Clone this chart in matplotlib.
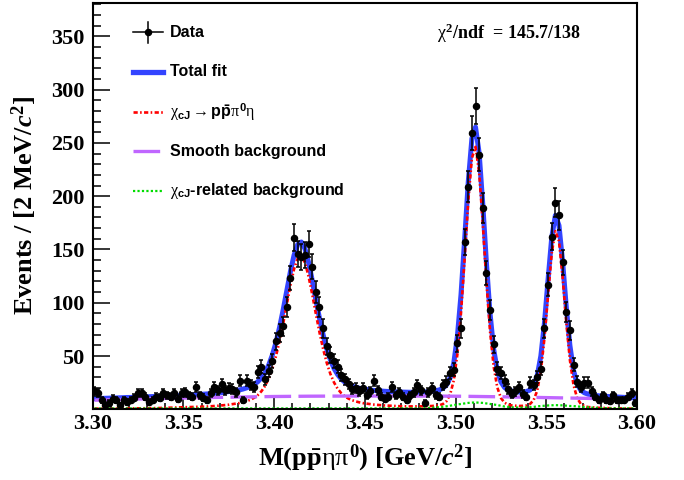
import numpy as np
import matplotlib
matplotlib.use("Agg")
import matplotlib.pyplot as plt
from matplotlib.ticker import MultipleLocator, FormatStrFormatter

# bin centres of the 2 MeV histogram, 3.30 - 3.60 GeV
mass = np.arange(150) * 0.002 + 3.301

counts = [17, 15, 9, 4, 6, 10, 9, 4, 9, 7,
          9, 11, 15, 15, 12, 7, 9, 12, 11, 15,
          13, 12, 15, 10, 15, 16, 13, 12, 21, 13,
          11, 9, 15, 21, 18, 24, 18, 20, 19, 16,
          27, 9, 27, 23, 21, 35, 40, 28, 36, 45,
          64, 72, 78, 96, 123, 161, 146, 143, 145, 155,
          134, 110, 96, 76, 59, 51, 45, 40, 32, 28,
          24, 19, 20, 17, 20, 13, 17, 27, 18, 12,
          10, 12, 21, 13, 16, 12, 9, 13, 16, 23,
          18, 6, 16, 20, 13, 12, 23, 26, 34, 37,
          62, 76, 157, 209, 259, 285, 239, 189, 128, 93,
          61, 38, 34, 27, 19, 14, 17, 21, 14, 12,
          25, 23, 30, 38, 76, 117, 162, 194, 182, 138,
          91, 74, 42, 26, 21, 25, 25, 17, 12, 9,
          13, 9, 8, 13, 9, 9, 9, 12, 15, 6]

fit_total = [10.0, 10.1, 10.2, 10.3, 10.5, 10.6, 10.7, 10.8, 11.0, 11.1,
             11.1, 11.3, 11.4, 11.6, 11.7, 11.7, 11.9, 12.0, 12.1, 12.3,
             12.3, 12.5, 12.7, 12.8, 13.0, 13.1, 13.3, 13.5, 13.7, 14.0,
             14.2, 14.4, 14.7, 15.0, 15.3, 15.6, 16.1, 16.5, 17.0, 17.6,
             18.2, 19.1, 20.2, 21.5, 23.4, 25.9, 29.6, 34.6, 41.5, 50.8,
             62.6, 76.9, 93.5, 111.5, 129.4, 144.7, 154.7, 157.0, 150.7, 137.7,
             120.9, 102.7, 85.4, 69.9, 56.8, 46.4, 38.4, 32.6, 28.4, 25.4,
             23.3, 21.8, 20.7, 19.8, 19.1, 18.6, 18.1, 17.7, 17.4, 17.1,
             16.9, 16.7, 16.5, 16.4, 16.2, 16.1, 16.1, 16.0, 15.9, 15.9,
             16.0, 16.2, 16.5, 17.0, 17.4, 18.2, 19.7, 22.8, 29.5, 43.3,
             68.4, 107.7, 159.5, 213.6, 254.1, 264.8, 240.5, 192.5, 137.5, 90.0,
             56.4, 36.3, 25.7, 20.5, 18.1, 17.1, 16.5, 16.2, 16.2, 16.6,
             18.1, 21.9, 31.5, 50.1, 81.3, 122.2, 161.3, 182.0, 172.5, 138.5,
             96.3, 60.1, 36.5, 23.8, 17.9, 15.5, 14.2, 13.6, 13.0, 12.6,
             12.3, 12.1, 11.9, 11.6, 11.4, 11.4, 11.1, 11.0, 10.8, 10.7]

fit_signal = [0.6, 0.6, 0.6, 0.6, 0.7, 0.7, 0.7, 0.7, 0.8, 0.8,
              0.8, 0.9, 0.9, 1.0, 1.0, 1.0, 1.1, 1.1, 1.2, 1.3,
              1.3, 1.4, 1.5, 1.6, 1.7, 1.8, 1.9, 2.0, 2.1, 2.3,
              2.5, 2.6, 2.8, 3.1, 3.3, 3.6, 4.0, 4.3, 4.8, 5.3,
              5.9, 6.7, 7.7, 9.0, 10.8, 13.3, 16.9, 21.9, 28.8, 38.0,
              49.8, 64.0, 80.6, 98.6, 116.4, 131.7, 141.7, 143.9, 137.6, 124.6,
              107.8, 89.6, 72.2, 56.7, 43.6, 33.2, 25.2, 19.3, 15.1, 12.1,
              10.0, 8.5, 7.4, 6.5, 5.8, 5.3, 4.8, 4.4, 4.1, 3.8,
              3.6, 3.4, 3.2, 3.1, 2.9, 2.8, 2.8, 2.7, 2.7, 2.7,
              2.7, 2.8, 2.9, 3.1, 3.3, 3.8, 4.9, 7.6, 13.8, 27.1,
              51.6, 90.5, 141.7, 195.4, 235.7, 246.3, 222.3, 174.5, 120.0, 73.1,
              40.0, 20.5, 10.6, 6.2, 4.3, 3.6, 3.3, 3.1, 3.2, 3.6,
              4.9, 8.5, 17.5, 35.9, 66.9, 107.6, 146.6, 167.2, 157.9, 124.1,
              82.2, 46.4, 22.9, 10.6, 5.1, 3.0, 2.1, 1.8, 1.5, 1.3,
              1.2, 1.1, 1.0, 0.9, 0.8, 0.8, 0.7, 0.7, 0.6, 0.6]

fit_smooth = [8.55, 8.65, 8.75, 8.85, 8.95, 9.05, 9.15, 9.25, 9.35, 9.45,
              9.54, 9.62, 9.70, 9.78, 9.86, 9.93, 9.99, 10.05, 10.11, 10.17,
              10.23, 10.29, 10.35, 10.41, 10.47, 10.54, 10.62, 10.70, 10.78, 10.86,
              10.93, 10.99, 11.05, 11.11, 11.17, 11.23, 11.29, 11.35, 11.41, 11.47,
              11.53, 11.59, 11.65, 11.71, 11.77, 11.82, 11.86, 11.90, 11.94, 11.98,
              12.02, 12.06, 12.10, 12.14, 12.18, 12.21, 12.23, 12.25, 12.27, 12.29,
              12.31, 12.33, 12.35, 12.37, 12.39, 12.41, 12.43, 12.45, 12.47, 12.49,
              12.5, 12.5, 12.5, 12.5, 12.5, 12.5, 12.5, 12.5, 12.5, 12.5,
              12.5, 12.5, 12.5, 12.5, 12.5, 12.49, 12.47, 12.45, 12.43, 12.41,
              12.4, 12.4, 12.4, 12.4, 12.4, 12.39, 12.37, 12.35, 12.33, 12.31,
              12.28, 12.24, 12.20, 12.16, 12.12, 12.08, 12.04, 12.00, 11.96, 11.92,
              11.87, 11.81, 11.75, 11.69, 11.63, 11.57, 11.51, 11.45, 11.39, 11.33,
              11.27, 11.21, 11.15, 11.09, 11.03, 10.97, 10.91, 10.85, 10.79, 10.73,
              10.67, 10.61, 10.55, 10.49, 10.43, 10.36, 10.28, 10.20, 10.12, 10.04,
              9.97, 9.91, 9.85, 9.79, 9.73, 9.66, 9.58, 9.50, 9.42, 9.34]

fit_related = [0.8] * 90 + [
    0.9, 1.0, 1.2, 1.45, 1.7, 2.0, 2.4, 2.8, 3.4, 3.9,
    4.5, 5.0, 5.6, 6.0, 6.3, 6.4, 6.2, 6.0, 5.5, 5.0,
    4.5, 4.0, 3.3, 2.6, 2.2, 1.9, 1.7, 1.6, 1.6, 1.7,
    1.9, 2.2, 2.8, 3.1, 3.4, 3.6, 3.8, 3.9, 3.8, 3.7,
    3.4, 3.1, 3.0, 2.7, 2.4, 2.1, 1.8, 1.6, 1.4, 1.25,
    1.15, 1.1, 1.0, 0.95, 0.9, 0.9, 0.85, 0.8, 0.8, 0.8]

chi2_label = r'$\chi^{\mathrm{2}}$/ndf  = 145.7/138'

plt.rcParams['font.family'] = 'Liberation Serif'
plt.rcParams['font.weight'] = 'bold'
plt.rcParams['axes.labelweight'] = 'bold'
plt.rcParams['mathtext.fontset'] = 'custom'
plt.rcParams['mathtext.rm'] = 'Liberation Serif:bold'
plt.rcParams['mathtext.it'] = 'Liberation Serif:weight=normal'
plt.rcParams['mathtext.bf'] = 'Liberation Sans:bold'
plt.rcParams['mathtext.sf'] = 'Liberation Serif:italic:bold'

c_total = '#3344ff'
c_signal = '#ff0000'
c_smooth = '#c066ff'
c_related = '#00dd00'
st_signal = (0, (1.6, 0.9, 0.6, 0.9))
st_smooth = (0, (8, 2.2))
st_related = (0, (1, 1))

fig = plt.figure(figsize=(6.84, 4.8), dpi=100)
ax = fig.add_axes([0.1355, 0.1473, 0.7958, 0.8458])

ax.plot(mass, fit_total, color=c_total, lw=3.6, zorder=2)
ax.plot(mass, fit_signal, color=c_signal, lw=1.9, ls=st_signal, zorder=3)
ax.plot(mass, fit_smooth, color=c_smooth, lw=2.4, ls=st_smooth, zorder=3)
ax.plot(mass, fit_related, color=c_related, lw=1.6, ls=st_related, zorder=3)
ax.errorbar(mass, counts, yerr=np.sqrt(counts), fmt='o', color='black', ms=4.4,
            elinewidth=1.1, capsize=1.5, capthick=1.1, zorder=5)

ax.set_xlim(3.30, 3.60)
ax.set_ylim(0, 381)
ax.xaxis.set_major_locator(MultipleLocator(0.05))
ax.xaxis.set_minor_locator(MultipleLocator(0.01))
ax.xaxis.set_major_formatter(FormatStrFormatter('%.2f'))
ax.set_yticks(np.arange(50, 351, 50))
ax.yaxis.set_minor_locator(MultipleLocator(10))
ax.tick_params(axis='both', which='both', direction='in', top=False, right=False,
               width=1.1, labelsize=16)
ax.tick_params(axis='x', which='major', length=8.5, pad=3.5)
ax.tick_params(axis='x', which='minor', length=4.3)
ax.tick_params(axis='y', which='major', length=12, pad=6)
ax.tick_params(axis='y', which='minor', length=6)
for sp in ax.spines.values():
    sp.set_linewidth(1.5)
    sp.set_zorder(6)

ax.set_xlabel(r'M(p$\bar{\mathrm{p}}\eta\pi^{\mathrm{0}}$) [GeV/$\mathsf{c}^{\mathrm{2}}$]',
              fontsize=19, fontweight='bold')
ax.set_ylabel(r'Events / [2 MeV/$\mathsf{c}^{\mathrm{2}}$]', fontsize=19,
              fontweight='bold')
ax.xaxis.set_label_coords(0.5, -0.083)
ax.yaxis.set_label_coords(-0.098, 0.503)

# legend, drawn by hand like the ROOT TLegend
tr = ax.transAxes
hx = [0.074, 0.129]
tx = 0.142
rows = [0.929, 0.831, 0.732, 0.636, 0.537]
ax.plot(hx, [rows[0]] * 2, color='black', lw=1.1, transform=tr)
ax.plot([0.1016] * 2, [0.9015, 0.9547], color='black', lw=1.1, transform=tr)
ax.plot([0.1016], [rows[0]], 'o', color='black', ms=4.4, transform=tr)
ax.plot(hx, [rows[1]] * 2, color=c_total, lw=3.8, transform=tr)
ax.plot(hx, [rows[2]] * 2, color=c_signal, lw=1.9, ls=st_signal, transform=tr)
ax.plot(hx, [rows[3]] * 2, color=c_smooth, lw=2.4, ls=st_smooth, transform=tr)
ax.plot(hx, [rows[4]] * 2, color=c_related, lw=1.6, ls=st_related, transform=tr)
labels = ['Data', 'Total fit',
          r'$\chi_{\mathbf{cJ}}\rightarrow\mathbf{p\bar{p}}\pi^{\mathbf{0}}\eta$',
          'Smooth background',
          r'$\chi_{\mathbf{cJ}}$-related background']
for y, lab in zip(rows, labels):
    ax.text(tx, y, lab, transform=tr, va='center', ha='left',
            fontfamily='Liberation Sans', fontweight='bold', fontsize=11.5)

ax.text(0.6326, 0.926, chi2_label, transform=tr, va='center', ha='left', fontsize=13)

fig.savefig('out.png', dpi=100)
